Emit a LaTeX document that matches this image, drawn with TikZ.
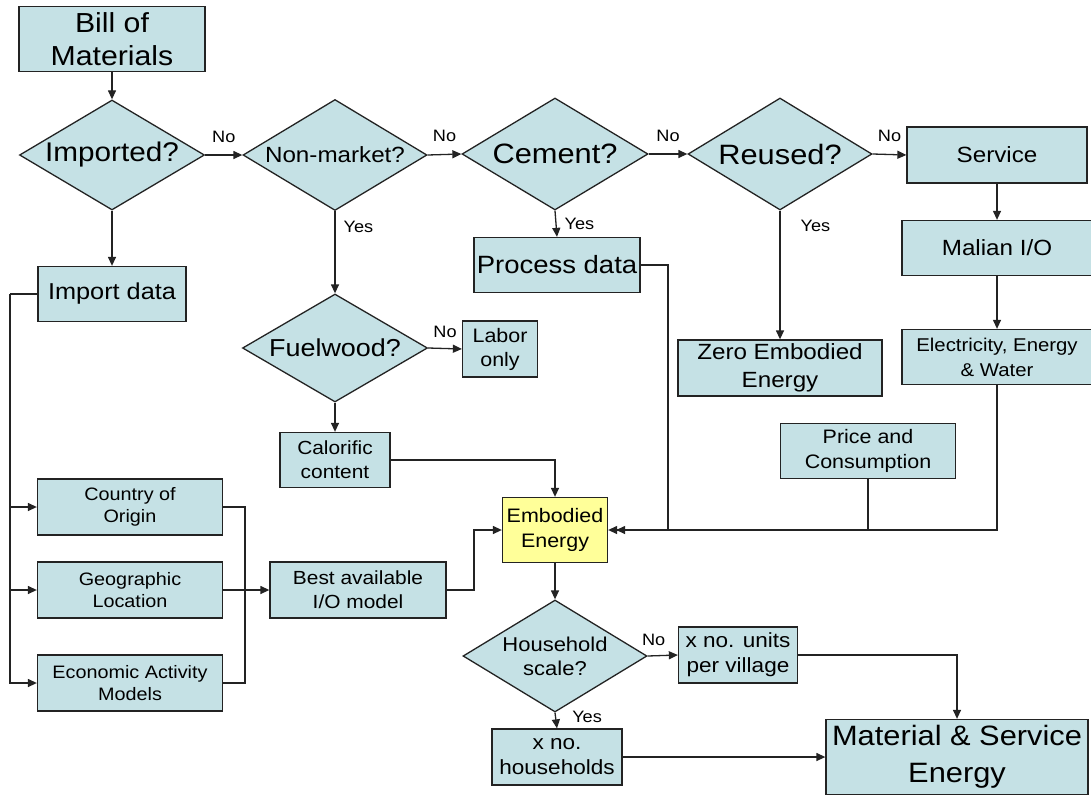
\documentclass[tikz,border=0pt]{standalone}
\usepackage{fontspec}
\setmainfont[FakeStretch=1.1]{Liberation Sans}
\usetikzlibrary{shapes.geometric,arrows.meta}
\definecolor{boxblue}{RGB}{197,225,229}
\definecolor{boxyellow}{RGB}{255,255,153}
\definecolor{edge}{RGB}{35,35,35}
\newcommand{\fs}[2]{\fontsize{#1}{#2}\selectfont}
\tikzset{
  box/.style={draw=edge, line width=1.3pt, fill=boxblue, inner sep=0pt, align=center, font=\fs{18}{22}},
  dia/.style={shape=diamond, draw=edge, line width=1.3pt, fill=boxblue, inner sep=0pt, aspect=1.7, align=center},
  conn/.style={draw=edge, line width=1.3pt},
  arr/.style={conn, -{Triangle[length=9pt,width=8pt]}},
  lbl/.style={font=\fs{16.5}{19}, inner sep=0pt}
}
\begin{document}
\begin{tikzpicture}[x=1pt,y=-1pt]
\useasboundingbox[fill=white] (0,0) rectangle (1091,795);
% nodes
\node[box, minimum width=186pt, minimum height=65pt, font=\fs{27.5}{33}] (bom) at (112,39) {Bill of\\Materials};
\node[dia, minimum width=185pt, minimum height=110pt, font=\fs{27}{30}] (imp) at (112,155) {Imported?};
\node[dia, minimum width=184pt, minimum height=111pt, font=\fs{22}{26}] (nm) at (335,155) {Non-market?};
\node[dia, minimum width=186pt, minimum height=112pt, font=\fs{28}{30}] (cem) at (555,154) {Cement?};
\node[dia, minimum width=184pt, minimum height=112pt, font=\fs{28}{30}] (reu) at (780,154) {Reused?};
\node[box, minimum width=180pt, minimum height=56pt, font=\fs{22}{26}] (svc) at (997,155) {Service};
\node[box, minimum width=148pt, minimum height=55pt, font=\fs{23}{26}] (impdata) at (112,294) {Import data};
\node[box, minimum width=166pt, minimum height=55pt, font=\fs{25}{28}] (proc) at (557,265) {Process data};
\node[box, minimum width=190pt, minimum height=55pt, font=\fs{22}{26}] (mal) at (997,248) {Malian I/O};
\node[dia, minimum width=185pt, minimum height=108pt, font=\fs{24.5}{28}] (fw) at (335,348) {Fuelwood?};
\node[box, minimum width=75pt, minimum height=56pt, font=\fs{19.5}{24}] (labor) at (500,349) {Labor\\only};
\node[box, minimum width=204pt, minimum height=56pt, font=\fs{22}{28}] (zero) at (780,368) {Zero Embodied\\Energy};
\node[box, minimum width=190pt, minimum height=55pt, font=\fs{18.5}{25}] (elec) at (997,357) {Electricity, Energy\\\& Water};
\node[box, minimum width=110pt, minimum height=55pt, font=\fs{19}{24}] (cal) at (335,460) {Calorific\\content};
\node[box, minimum width=175pt, minimum height=55pt, font=\fs{19.5}{25}] (price) at (868,451) {Price and\\Consumption};
\node[box, fill=boxyellow, minimum width=105pt, minimum height=65pt, font=\fs{19.5}{25}] (emb) at (555,530) {Embodied\\Energy};
\node[box, minimum width=176pt, minimum height=56pt, font=\fs{19}{24}] (best) at (358,590) {Best available\\I/O model};
\node[box, minimum width=185pt, minimum height=56pt] (country) at (130,507) {Country of\\Origin};
\node[box, minimum width=185pt, minimum height=56pt] (geo) at (130,590) {Geographic\\Location};
\node[box, minimum width=185pt, minimum height=56pt] (econ) at (130,683) {Economic Activity\\Models};
\node[dia, minimum width=184pt, minimum height=112pt, font=\fs{20}{24}] (hh) at (555,656) {Household\\scale?};
\node[box, minimum width=119pt, minimum height=56pt, font=\fs{20.5}{25}] (units) at (738,655) {x no. units\\per village};
\node[box, minimum width=130pt, minimum height=56pt, font=\fs{20.5}{25}] (hhs) at (557,757) {x no.\\households};
\node[box, minimum width=262pt, minimum height=75pt, font=\fs{28}{37}] (mse) at (957,757) {Material \& Service\\Energy};
% coordinates
\coordinate (trunk) at (10,294);
\coordinate (cbus) at (245,507);
\coordinate (pbus) at (668,265);
\coordinate (bbus) at (474,590);
% connectors
\draw[arr] (bom) -- (imp);
\draw[arr] (imp.east) -- node[lbl, above=12pt] {No} (nm.west);
\draw[arr] (nm.east) -- node[lbl, above=12pt] {No} (cem.west);
\draw[arr] (cem.east) -- node[lbl, above=12pt] {No} (reu.west);
\draw[arr] (reu.east) -- node[lbl, above=12pt] {No} (svc.west);
\draw[arr] (imp.south) -- (impdata.north);
\draw[arr] (nm.south) -- node[lbl, pos=0.19, right=8pt] {Yes} (fw.north);
\draw[arr] (cem.south) -- node[lbl, midway, right=8pt] {Yes} (proc.north);
\draw[arr] (reu.south) -- node[lbl, pos=0.12, right=20pt] {Yes} (zero.north);
\draw[arr] (svc.south) -- (mal.north);
\draw[arr] (mal.south) -- (elec.north);
\draw[arr] (fw.east) -- node[lbl, above=10pt] {No} (labor.west);
\draw[arr] (fw.south) -- (cal.north);
\draw[arr] (cal.east) -| (emb.north);
\draw[arr] (proc.east) -- (pbus) |- (emb.east);
\draw[conn] (price.south) -- (price.south |- emb.east);
\draw[arr] (elec.south) |- ([xshift=8pt]emb.east);
\draw[arr] (best.east) -- (bbus) |- (emb.west);
\draw[conn] (impdata.west) -- (trunk);
\draw[arr] (trunk) |- (country.west);
\draw[arr] (trunk) |- (geo.west);
\draw[arr] (trunk) |- (econ.west);
\draw[conn] (country.east) -- (cbus) |- (econ.east);
\draw[arr] (geo.east) -- (best.west);
\draw[arr] (emb.south) -- (hh.north);
\draw[arr] (hh.east) -- node[lbl, pos=0.2, above=10pt] {No} (units.west);
\draw[arr] (hh.south) -- node[lbl, pos=0.3, right=16pt] {Yes} (hhs.north);
\draw[arr] (hhs.east) -- (mse.west);
\draw[arr] (units.east) -| (mse.north);
\end{tikzpicture}
\end{document}
